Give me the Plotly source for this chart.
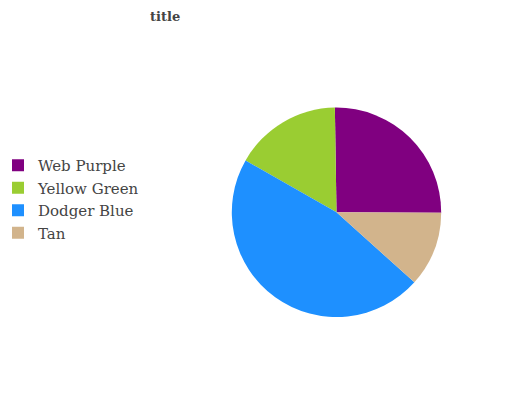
import plotly.graph_objects as go

labels = ["Web Purple", "Yellow Green", "Dodger Blue", "Tan"]
values = [25.3, 16.5, 46.6, 11.6]
colors = ["#800080", "#9ACD32", "#1E90FF", "#D2B48C"]

W, H = 532, 400
# page body adds an 8px offset
cx, cy, r = 328.5, 204.3, 104.7

fig = go.Figure(go.Pie(
    labels=labels, values=values, sort=False, direction="counterclockwise",
    rotation=359.1, marker=dict(colors=colors, line=dict(width=0)),
    textinfo="none", hoverinfo="label+value",
    domain=dict(x=[(cx - r) / W, (cx + r) / W], y=[(H - cy - r) / H, (H - cy + r) / H]),
))
fig.update_layout(
    width=W, height=H, margin=dict(l=0, r=0, t=0, b=0, autoexpand=False),
    paper_bgcolor="white", plot_bgcolor="white",
    font=dict(family="DejaVu Serif", color="#444444"),
    showlegend=True,
    legend=dict(x=0, y=1 - 141 / H, xanchor="left", yanchor="top", indentation=-10,
                font=dict(size=15, family="DejaVu Serif", color="#444444"),
                tracegroupgap=0),
    annotations=[dict(text="<b>title</b>", x=157 / W, y=1 - 9 / H, xref="paper", yref="paper",
                      xanchor="center", yanchor="middle",
                      showarrow=False, font=dict(size=13, family="DejaVu Serif", color="#444444"))],
)
fig.write_html("out.html")
